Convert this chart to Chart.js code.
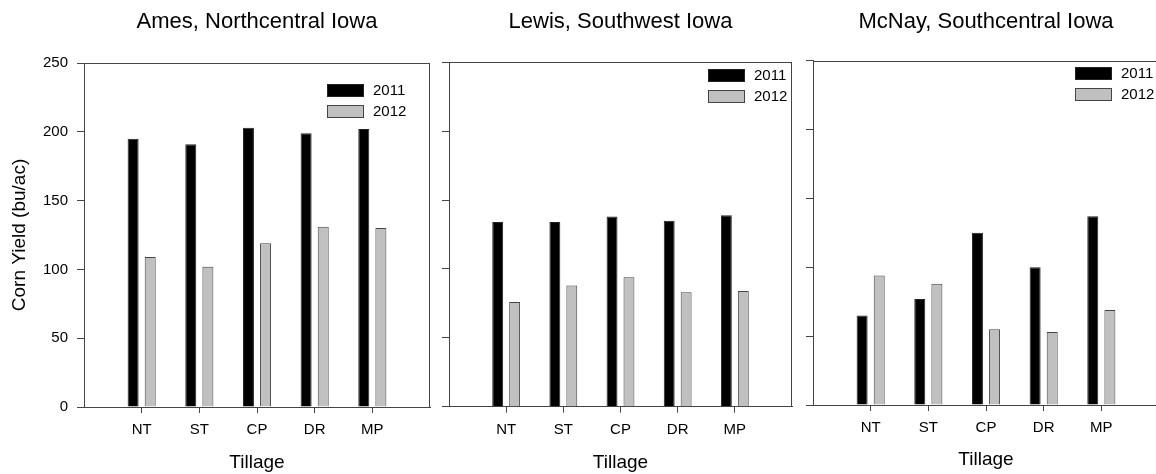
<!DOCTYPE html>
<html>
<head>
<meta charset="utf-8">
<script src="https://cdn.jsdelivr.net/npm/chart.js@4.4.1/dist/chart.umd.min.js"></script>
<style>
  html, body { margin: 0; padding: 0; background: #fff; overflow: hidden; }
  #wrap { position: relative; width: 1156px; height: 474px; overflow: hidden; }
  canvas { position: absolute; top: 0; }
</style>
</head>
<body>
<div id="wrap">
  <canvas id="ames" width="440" height="474" style="left:0px"></canvas>
  <canvas id="lewis" width="400" height="474" style="left:400px"></canvas>
  <canvas id="mcnay" width="400" height="474" style="left:770px"></canvas>
</div>
<script>
// tillage treatments, yield in bu/ac
const categories = ['NT', 'ST', 'CP', 'DR', 'MP'];
const years = ['2011', '2012'];

const ames2011 = [195, 191, 203, 199, 202];
const ames2012 = [109, 102, 119, 131, 130];
const lewis2011 = [134, 134, 138, 135, 139];
const lewis2012 = [76, 88, 94, 83, 84];
const mcnay2011 = [65, 77, 125, 100, 137];
const mcnay2012 = [94, 88, 55, 53, 69];

const yMin = 0;
const yMax = 250;
const yStep = 50;

Chart.defaults.font.family = '"Liberation Sans", Arial, sans-serif';
Chart.defaults.color = '#000';

// empty slot on each side, like the original plot
const xLabels = [''].concat(categories, ['']);
const pad = arr => [null].concat(arr, [null]);

// box around plot area + legend in the upper right
const frameAndLegend = {
    id: 'frameAndLegend',
    afterDraw(chart, args, opts) {
        const { ctx, chartArea } = chart;
        ctx.save();
        ctx.strokeStyle = '#444';
        ctx.lineWidth = 1;
        ctx.beginPath();
        ctx.moveTo(chartArea.left, Math.round(chartArea.top) + 0.5);
        ctx.lineTo(chartArea.right, Math.round(chartArea.top) + 0.5);
        ctx.moveTo(Math.round(chartArea.right) - 0.5, chartArea.top);
        ctx.lineTo(Math.round(chartArea.right) - 0.5, chartArea.bottom);
        ctx.stroke();

        ctx.font = '15px "Liberation Sans", Arial, sans-serif';
        ctx.textBaseline = 'middle';
        ctx.textAlign = 'left';
        chart.data.datasets.forEach((ds, i) => {
            const x = Math.round(chartArea.left + opts.x);
            const y = Math.round(chartArea.top + opts.y + i * 21);
            ctx.fillStyle = ds.backgroundColor;
            ctx.fillRect(x, y, 37, 13);
            ctx.strokeStyle = ds.borderColor;
            ctx.strokeRect(x + 0.5, y + 0.5, 36, 12);
            ctx.fillStyle = '#000';
            ctx.fillText(ds.label, x + 46, y + 7);
        });
        ctx.restore();
    }
};

function makePanel(id, title, d2011, d2012, p) {
    const ctx = document.getElementById(id).getContext('2d');
    return new Chart(ctx, {
        type: 'bar',
        data: {
            labels: xLabels,
            datasets: [
                {
                    label: years[0],
                    data: pad(d2011),
                    backgroundColor: '#000',
                    borderColor: '#222',
                    borderWidth: 1,
                    categoryPercentage: 0.593,
                    barPercentage: 0.643
                },
                {
                    label: years[1],
                    data: pad(d2012),
                    backgroundColor: '#c0c0c0',
                    borderColor: '#444',
                    borderWidth: 1,
                    categoryPercentage: 0.593,
                    barPercentage: 0.643
                }
            ]
        },
        options: {
            responsive: false,
            animation: false,
            layout: { padding: { left: 0, right: p.padRight, top: 0, bottom: 0 } },
            scales: {
                x: {
                    type: 'category',
                    offset: false,
                    afterFit: scale => { scale.height = p.xHeight; },
                    grid: {
                        offset: false,
                        drawOnChartArea: false,
                        tickLength: 6,
                        color: '#444',
                        tickColor: c => (c.index === 0 || c.index === xLabels.length - 1) ? 'rgba(0,0,0,0)' : '#444'
                    },
                    border: { color: '#444' },
                    ticks: {
                        autoSkip: false,
                        maxRotation: 0,
                        padding: 8,
                        font: { size: 15 }
                    },
                    title: {
                        display: true,
                        text: 'Tillage',
                        font: { size: 19 },
                        padding: { top: 0, bottom: p.tillagePad }
                    }
                },
                y: {
                    min: yMin,
                    max: yMax,
                    afterFit: scale => { scale.width = p.yWidth; },
                    grid: {
                        drawOnChartArea: false,
                        tickLength: 7,
                        color: '#444'
                    },
                    border: { color: '#444' },
                    ticks: {
                        display: p.yLabels,
                        stepSize: yStep,
                        padding: 9,
                        font: { size: 15 }
                    },
                    title: {
                        display: p.yLabels,
                        text: 'Corn Yield (bu/ac)',
                        font: { size: 19 },
                        padding: { top: 8.6, bottom: 0 }
                    }
                }
            },
            plugins: {
                legend: { display: false },
                tooltip: { enabled: false },
                title: {
                    display: true,
                    text: title,
                    fullSize: false,
                    font: { size: 22, weight: 'normal' },
                    padding: { top: 8.4, bottom: p.top - 8.4 - 26.4 }
                },
                frameAndLegend: { x: p.legendX, y: p.legendY }
            }
        },
        plugins: [frameAndLegend]
    });
}

makePanel('ames', 'Ames, Northcentral Iowa', ames2011, ames2012,
    { top: 63, xHeight: 67, yWidth: 84, padRight: 10, yLabels: true, legendX: 243, legendY: 21, tillagePad: 0 });
makePanel('lewis', 'Lewis, Southwest Iowa', lewis2011, lewis2012,
    { top: 62.3, xHeight: 67.3, yWidth: 49, padRight: 5, yLabels: false, legendX: 259, legendY: 7, tillagePad: 0 });
makePanel('mcnay', 'McNay, Southcentral Iowa', mcnay2011, mcnay2012,
    { top: 60.7, xHeight: 69, yWidth: 43, padRight: 11, yLabels: false, legendX: 262, legendY: 6, tillagePad: 2.5 });
</script>
</body>
</html>
